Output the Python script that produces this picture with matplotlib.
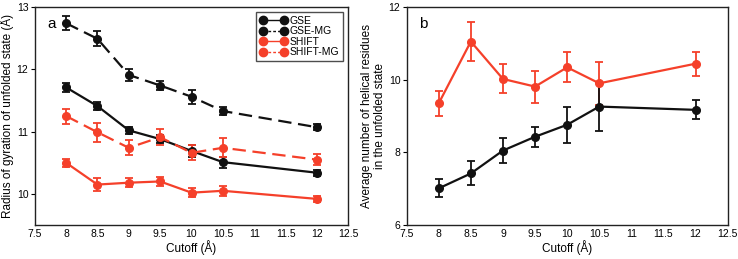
import matplotlib
matplotlib.use("Agg")
import matplotlib.pyplot as plt
import numpy as np

plt.rcParams['font.family'] = ['Liberation Sans', 'DejaVu Sans']

cutoff = [8, 8.5, 9, 9.5, 10, 10.5, 12]

# Panel a: radius of gyration
gse = [11.71, 11.41, 11.02, 10.88, 10.69, 10.51, 10.34]
gse_err = [0.07, 0.07, 0.06, 0.06, 0.10, 0.09, 0.05]
gse_mg = [12.74, 12.49, 11.91, 11.74, 11.56, 11.33, 11.07]
gse_mg_err = [0.11, 0.12, 0.09, 0.07, 0.11, 0.07, 0.05]
shift = [10.50, 10.15, 10.18, 10.20, 10.02, 10.05, 9.92]
shift_err = [0.06, 0.10, 0.07, 0.07, 0.07, 0.08, 0.05]
shift_mg = [11.25, 10.99, 10.74, 10.91, 10.66, 10.74, 10.55]
shift_mg_err = [0.12, 0.15, 0.12, 0.13, 0.12, 0.15, 0.09]

# Panel b: helical residues
helix_gse = [7.01, 7.42, 8.05, 8.43, 8.76, 9.26, 9.17]
helix_gse_err = [0.25, 0.33, 0.34, 0.28, 0.49, 0.67, 0.26]
helix_shift = [9.35, 11.05, 10.02, 9.81, 10.34, 9.90, 10.44]
helix_shift_err = [0.35, 0.54, 0.40, 0.44, 0.41, 0.60, 0.33]

xticks = [7.5, 8, 8.5, 9, 9.5, 10, 10.5, 11, 11.5, 12, 12.5]
xticklabels = ['7.5', '8', '8.5', '9', '9.5', '10', '10.5', '11', '11.5', '12', '12.5']

BLACK = '#111111'
RED = '#f5402a'

fig = plt.figure(figsize=(7.38, 2.59), dpi=100)
axa = fig.add_axes([0.047, 0.131, 0.425, 0.842])
axb = fig.add_axes([0.551, 0.131, 0.435, 0.842])

def style(ax):
    ax.set_xlim(7.5, 12.5)
    ax.set_xticks(xticks)
    ax.set_xticklabels(xticklabels)
    ax.tick_params(axis='x', length=0, pad=3, labelsize=7.5)
    ax.tick_params(axis='y', length=3, width=0.8, direction='out', labelsize=7.5, pad=1.5)
    for s in ax.spines.values():
        s.set_linewidth(1.0)
        s.set_color('#222222')
    ax.set_xlabel('Cutoff (Å)', fontsize=8.5, labelpad=0.5)

def series(ax, y, e, color, ls, label=None):
    ax.errorbar(cutoff, y, yerr=e, color=color, ls=ls, lw=1.6, marker='o',
                ms=5.5, mec=color, mfc=color, ecolor=color, elinewidth=1.3,
                capsize=2.8, capthick=1.3, label=label, dashes=(6, 3) if ls == '--' else (None, None))

series(axa, gse, gse_err, BLACK, '-', 'GSE')
series(axa, gse_mg, gse_mg_err, BLACK, '--', 'GSE-MG')
series(axa, shift, shift_err, RED, '-', 'SHIFT')
series(axa, shift_mg, shift_mg_err, RED, '--', 'SHIFT-MG')
style(axa)
axa.set_ylim(9.5, 13)
axa.set_yticks([10, 11, 12, 13])
axa.set_ylabel('Radius of gyration of unfolded state (Å)', fontsize=8.5, labelpad=2)
axa.text(0.04, 0.955, 'a', transform=axa.transAxes, fontsize=11, va='top', ha='left')

from matplotlib.lines import Line2D
handles = [
    Line2D([], [], color=BLACK, ls='-', lw=1, marker='o', ms=6),
    Line2D([], [], color=BLACK, ls=(0, (2, 1.5)), lw=1, marker='o', ms=6),
    Line2D([], [], color=RED, ls='-', lw=1, marker='o', ms=6),
    Line2D([], [], color=RED, ls=(0, (2, 1.5)), lw=1, marker='o', ms=6),
]
leg = axa.legend(handles, ['GSE', 'GSE-MG', 'SHIFT', 'SHIFT-MG'], loc='upper right',
                 fontsize=7.5, frameon=True, fancybox=False, handlelength=2.6,
                 handletextpad=0.3, labelspacing=0.05, borderpad=0.35,
                 borderaxespad=0.5, numpoints=2)
leg.get_frame().set_edgecolor('#222222')
leg.get_frame().set_linewidth(1.0)

series(axb, helix_shift, helix_shift_err, RED, '-')
series(axb, helix_gse, helix_gse_err, BLACK, '-')
style(axb)
axb.set_ylim(6, 12)
axb.set_yticks([6, 8, 10, 12])
axb.set_ylabel('Average number of helical residues\nin the unfolded state', fontsize=8.5, labelpad=2, linespacing=1.05)
axb.text(0.04, 0.955, 'b', transform=axb.transAxes, fontsize=11, va='top', ha='left')

fig.savefig('out.png', dpi=100)
